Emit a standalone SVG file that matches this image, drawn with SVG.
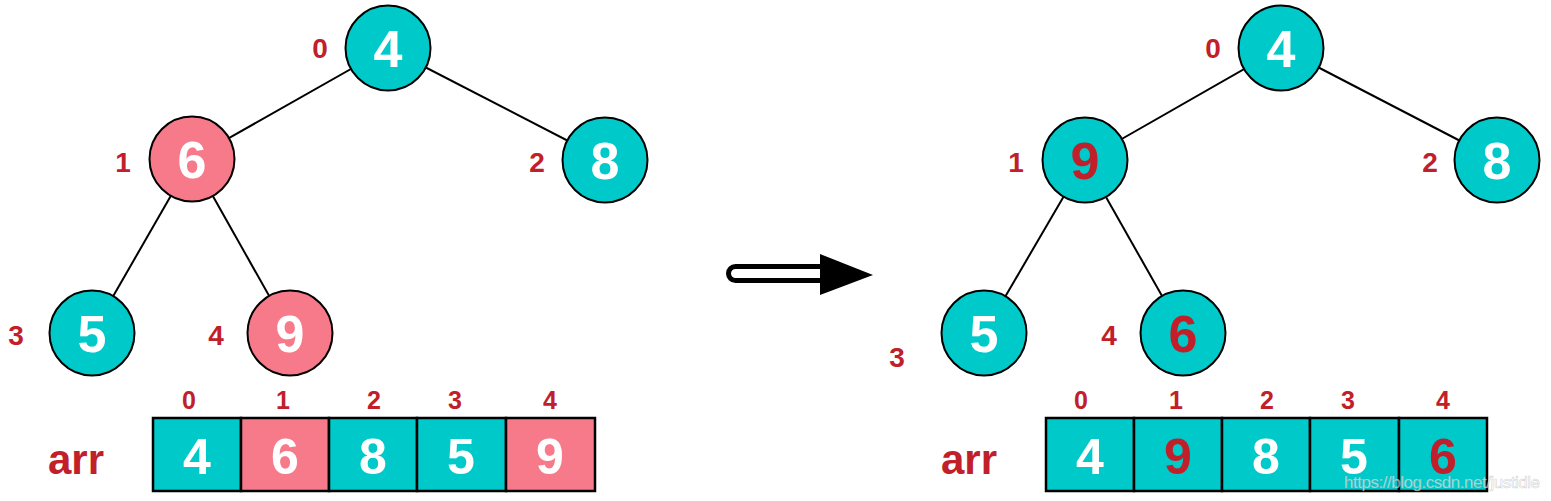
<svg xmlns="http://www.w3.org/2000/svg" width="1551" height="501" viewBox="0 0 1551 501">
<style>
.teal{fill:#00C9CA;stroke:#000;stroke-width:2}
.pink{fill:#F77A8A;stroke:#000;stroke-width:2}
.val{font-family:"Liberation Sans",Arial,sans-serif;font-weight:bold;font-size:52px;text-anchor:middle;fill:#fff}
.cv{font-family:"Liberation Sans",Arial,sans-serif;font-weight:bold;font-size:50px;text-anchor:middle;fill:#fff}
.red{fill:#C1202B}
.idx{font-family:"Liberation Sans",Arial,sans-serif;font-weight:bold;font-size:28px;text-anchor:middle;fill:#C1202B}
.aidx{font-family:"Liberation Sans",Arial,sans-serif;font-weight:bold;font-size:25px;text-anchor:middle;fill:#C1202B}
.arr{font-family:"Liberation Sans",Arial,sans-serif;font-weight:bold;font-size:42px;text-anchor:middle;fill:#C1202B}
.edge{stroke:#000;stroke-width:2;fill:none}
.cell{stroke:#000;stroke-width:2.5}
</style>
<rect width="1551" height="501" fill="#fff"/>
<g id="connectors">
<line class="edge" x1="388" y1="48" x2="192" y2="159"/>
<line class="edge" x1="388" y1="48" x2="605" y2="160"/>
<line class="edge" x1="192" y1="159" x2="92" y2="333"/>
<line class="edge" x1="192" y1="159" x2="290" y2="333"/>
<line class="edge" x1="1281" y1="48" x2="1085" y2="160"/>
<line class="edge" x1="1281" y1="48" x2="1497" y2="160"/>
<line class="edge" x1="1085" y1="160" x2="984" y2="333"/>
<line class="edge" x1="1085" y1="160" x2="1183" y2="333"/>
</g>
<g id="L0"><circle class="teal" cx="388" cy="48" r="42.5"/><text class="val" x="388" y="67">4</text><text class="idx" x="320" y="58">0</text></g>
<g id="L1"><circle class="pink" cx="192" cy="159" r="42.5"/><text class="val" x="192" y="178">6</text><text class="idx" x="123" y="172">1</text></g>
<g id="L2"><circle class="teal" cx="605" cy="160" r="42.5"/><text class="val" x="605" y="179">8</text><text class="idx" x="537" y="172">2</text></g>
<g id="L3"><circle class="teal" cx="92" cy="333" r="42.5"/><text class="val" x="92" y="352">5</text><text class="idx" x="16" y="345">3</text></g>
<g id="L4"><circle class="pink" cx="290" cy="333" r="42.5"/><text class="val" x="290" y="352">9</text><text class="idx" x="216" y="345">4</text></g>

<g id="R0"><circle class="teal" cx="1281" cy="48" r="42.5"/><text class="val" x="1281" y="67">4</text><text class="idx" x="1213" y="58">0</text></g>
<g id="R1"><circle class="teal" cx="1085" cy="160" r="42.5"/><text class="val red" x="1085" y="179">9</text><text class="idx" x="1016" y="172">1</text></g>
<g id="R2"><circle class="teal" cx="1497" cy="160" r="42.5"/><text class="val" x="1497" y="179">8</text><text class="idx" x="1430" y="172">2</text></g>
<g id="R3"><circle class="teal" cx="984" cy="333" r="42.5"/><text class="val" x="984" y="352">5</text><text class="idx" x="897" y="367">3</text></g>
<g id="R4"><circle class="teal" cx="1183" cy="333" r="42.5"/><text class="val red" x="1183" y="352">6</text><text class="idx" x="1109" y="345">4</text></g>

<g id="arrow">
<rect x="728.5" y="266.5" width="100" height="14" rx="7" fill="#fff" stroke="#000" stroke-width="5"/>
<polygon points="820,254 873,275 820,295" fill="#000"/>
</g>

<g id="arrayL">
<text class="arr" x="76" y="474">arr</text>
<rect class="cell" x="153" y="418" width="88" height="73" fill="#00C9CA"/>
<rect class="cell" x="241" y="418" width="88" height="73" fill="#F77A8A"/>
<rect class="cell" x="329" y="418" width="88" height="73" fill="#00C9CA"/>
<rect class="cell" x="417" y="418" width="89" height="73" fill="#00C9CA"/>
<rect class="cell" x="506" y="418" width="89" height="73" fill="#F77A8A"/>
<text class="cv" x="197" y="474">4</text>
<text class="cv" x="285" y="474">6</text>
<text class="cv" x="373" y="474">8</text>
<text class="cv" x="461" y="474">5</text>
<text class="cv" x="550" y="474">9</text>
<text class="aidx" x="189" y="409">0</text>
<text class="aidx" x="283" y="409">1</text>
<text class="aidx" x="374" y="409">2</text>
<text class="aidx" x="455" y="409">3</text>
<text class="aidx" x="550" y="409">4</text>
</g>

<g id="arrayR">
<text class="arr" x="969" y="474">arr</text>
<rect class="cell" x="1046" y="418" width="88" height="73" fill="#00C9CA"/>
<rect class="cell" x="1134" y="418" width="88" height="73" fill="#00C9CA"/>
<rect class="cell" x="1222" y="418" width="88" height="73" fill="#00C9CA"/>
<rect class="cell" x="1310" y="418" width="89" height="73" fill="#00C9CA"/>
<rect class="cell" x="1399" y="418" width="88" height="73" fill="#00C9CA"/>
<text class="cv" x="1090" y="474">4</text>
<text class="cv red" x="1178" y="474">9</text>
<text class="cv" x="1266" y="474">8</text>
<text class="cv" x="1354" y="474">5</text>
<text class="cv red" x="1443" y="474">6</text>
<text class="aidx" x="1081" y="409">0</text>
<text class="aidx" x="1176" y="409">1</text>
<text class="aidx" x="1267" y="409">2</text>
<text class="aidx" x="1348" y="409">3</text>
<text class="aidx" x="1443" y="409">4</text>
</g>

<text x="1344" y="488" font-family="'Liberation Sans',Arial,sans-serif" font-size="17" textLength="196" fill="#fff" fill-opacity="0.6" stroke="#999" stroke-opacity="0.45" stroke-width="0.6">https://blog.csdn.net/justidle</text>
</svg>
